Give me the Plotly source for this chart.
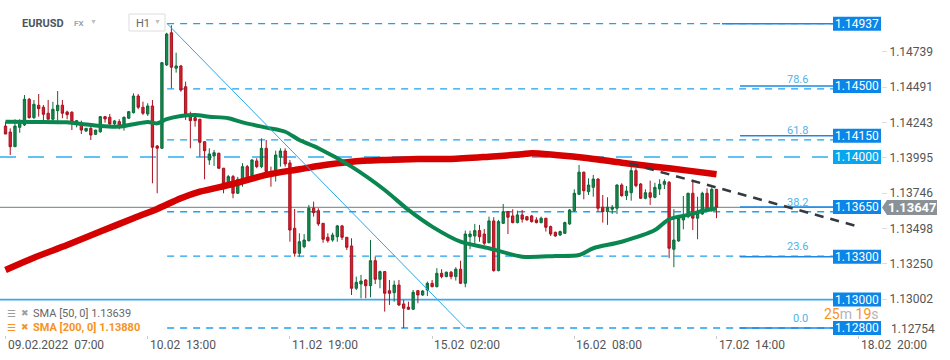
import plotly.graph_objects as go

# ---------------- data ----------------
candle_idx = list(range(151))
opens = [1.14218,1.14176,1.14073,1.14209,1.14226,1.14406,1.14277,1.14364,1.14350,1.14308,
         1.14266,1.14326,1.14364,1.14317,1.14315,1.14233,1.14226,1.14183,1.14202,1.14160,
         1.14178,1.14284,1.14280,1.14233,1.14249,1.14218,1.14273,1.14312,1.14429,1.14350,
         1.14303,1.14359,1.14078,1.14062,1.14647,1.14873,1.14624,1.14640,1.14494,1.14284,
         1.14277,1.14266,1.14108,1.13980,1.14008,1.14027,1.13922,1.13816,1.13863,1.13746,
         1.13816,1.13933,1.13868,1.13973,1.13933,1.14062,1.13898,1.13905,1.13999,1.14043,
         1.13959,1.13500,1.13325,1.13371,1.13413,1.13641,1.13624,1.13535,1.13437,1.13418,
         1.13441,1.13517,1.13437,1.13376,1.13079,1.13109,1.13137,1.13097,1.13273,1.13142,
         1.13196,1.13062,1.13048,1.13102,1.12969,1.12946,1.12932,1.13062,1.13032,1.13067,
         1.13114,1.13090,1.13184,1.13161,1.13192,1.13161,1.13213,1.13114,1.13441,1.13446,
         1.13484,1.13460,1.13399,1.13552,1.13203,1.13535,1.13617,1.13587,1.13540,1.13594,
         1.13582,1.13587,1.13559,1.13540,1.13571,1.13512,1.13472,1.13453,1.13465,1.13531,
         1.13624,1.13739,1.13894,1.13757,1.13788,1.13846,1.13648,1.13617,1.13634,1.13641,
         1.13804,1.13729,1.13750,1.13905,1.13811,1.13711,1.13750,1.13718,1.13776,1.13809,
         1.13823,1.13353,1.13411,1.13559,1.13582,1.13746,1.13571,1.13601,1.13746,1.13629,
         1.13774]
highs = [1.14249,1.14202,1.14266,1.14266,1.14436,1.14415,1.14401,1.14443,1.14366,1.14401,
         1.14389,1.14464,1.14401,1.14326,1.14322,1.14261,1.14256,1.14202,1.14214,1.14190,
         1.14289,1.14289,1.14303,1.14261,1.14266,1.14284,1.14324,1.14448,1.14443,1.14389,
         1.14378,1.14401,1.14085,1.14668,1.14873,1.14925,1.14733,1.14647,1.14530,1.14319,
         1.14282,1.14268,1.14113,1.14062,1.14050,1.14031,1.13924,1.13875,1.13875,1.13861,
         1.13957,1.13945,1.13985,1.13992,1.14132,1.14120,1.13933,1.14045,1.14062,1.14062,
         1.13980,1.13636,1.13465,1.13460,1.13664,1.13687,1.13641,1.13538,1.13465,1.13469,
         1.13524,1.13524,1.13439,1.13430,1.13161,1.13173,1.13144,1.13418,1.13301,1.13203,
         1.13201,1.13137,1.13133,1.13137,1.12997,1.12985,1.13067,1.13067,1.13067,1.13126,
         1.13137,1.13220,1.13213,1.13196,1.13201,1.13227,1.13273,1.13484,1.13484,1.13531,
         1.13524,1.13495,1.13582,1.13578,1.13559,1.13671,1.13622,1.13634,1.13624,1.13629,
         1.13587,1.13594,1.13578,1.13582,1.13573,1.13519,1.13477,1.13484,1.13547,1.13634,
         1.13774,1.13945,1.13898,1.13851,1.13875,1.13851,1.13734,1.13718,1.13664,1.13809,
         1.13816,1.13797,1.13933,1.13922,1.13818,1.13774,1.13835,1.13820,1.13844,1.13844,
         1.13832,1.13634,1.13594,1.13727,1.13750,1.13839,1.13722,1.13757,1.13781,1.13788,
         1.13776]
lows = [1.14162,1.14015,1.14073,1.14171,1.14218,1.14270,1.14268,1.14284,1.14249,1.14266,
        1.14249,1.14249,1.14273,1.14266,1.14190,1.14209,1.14162,1.14176,1.14120,1.14155,
        1.14171,1.14242,1.14226,1.14226,1.14195,1.14186,1.14268,1.14306,1.14336,1.14296,
        1.14289,1.13816,1.13746,1.14057,1.14640,1.14483,1.14593,1.14459,1.14261,1.14062,
        1.14214,1.14003,1.13844,1.13945,1.13938,1.13917,1.13746,1.13792,1.13711,1.13741,
        1.13792,1.13828,1.13858,1.13922,1.13922,1.13875,1.13792,1.13828,1.13933,1.13933,
        1.13406,1.13301,1.13301,1.13360,1.13408,1.13582,1.13517,1.13399,1.13399,1.13406,
        1.13406,1.13418,1.13348,1.13032,1.13067,1.13009,1.13009,1.13016,1.13109,1.13079,
        1.12915,1.12962,1.12985,1.12955,1.12800,1.12927,1.12927,1.12974,1.13025,1.13025,
        1.13086,1.13086,1.13149,1.13156,1.13142,1.13133,1.13109,1.13086,1.13353,1.13390,
        1.13406,1.13383,1.13395,1.13196,1.13198,1.13531,1.13460,1.13535,1.13535,1.13540,
        1.13554,1.13540,1.13535,1.13535,1.13477,1.13446,1.13441,1.13446,1.13460,1.13524,
        1.13617,1.13734,1.13704,1.13734,1.13722,1.13617,1.13540,1.13524,1.13601,1.13601,
        1.13722,1.13699,1.13694,1.13788,1.13706,1.13704,1.13664,1.13711,1.13734,1.13776,
        1.13290,1.13227,1.13406,1.13493,1.13571,1.13488,1.13423,1.13594,1.13624,1.13617,
        1.13571]
closes = [1.14162,1.14073,1.14218,1.14256,1.14406,1.14277,1.14371,1.14340,1.14301,1.14266,
          1.14336,1.14364,1.14308,1.14298,1.14249,1.14256,1.14190,1.14202,1.14155,1.14190,
          1.14284,1.14268,1.14233,1.14254,1.14218,1.14280,1.14319,1.14429,1.14350,1.14308,
          1.14359,1.14069,1.14062,1.14663,1.14864,1.14631,1.14640,1.14471,1.14303,1.14256,
          1.14256,1.14104,1.14045,1.14022,1.14031,1.13922,1.13816,1.13863,1.13746,1.13844,
          1.13933,1.13844,1.13980,1.13933,1.14062,1.13898,1.13863,1.14015,1.14043,1.13952,
          1.13488,1.13325,1.13406,1.13418,1.13641,1.13610,1.13531,1.13423,1.13413,1.13453,
          1.13517,1.13437,1.13367,1.13079,1.13121,1.13130,1.13097,1.13273,1.13142,1.13196,
          1.13044,1.13044,1.13102,1.12962,1.12939,1.12932,1.13051,1.13032,1.13060,1.13114,
          1.13090,1.13184,1.13161,1.13192,1.13161,1.13213,1.13114,1.13460,1.13460,1.13484,
          1.13441,1.13395,1.13552,1.13203,1.13547,1.13617,1.13578,1.13540,1.13594,1.13564,
          1.13559,1.13547,1.13540,1.13571,1.13507,1.13460,1.13446,1.13477,1.13540,1.13629,
          1.13746,1.13894,1.13764,1.13804,1.13846,1.13641,1.13617,1.13648,1.13648,1.13804,
          1.13729,1.13762,1.13905,1.13799,1.13711,1.13750,1.13718,1.13788,1.13809,1.13828,
          1.13360,1.13418,1.13571,1.13587,1.13746,1.13571,1.13606,1.13746,1.13629,1.13774,
          1.13647]

sma50_idx = [0,6,13,16,20,24,27,30,32,34,37,40,43,47,50,55,59,62,66,73,
             80,85,90,96,102,109,116,121,124,130,137,140,144,147,150]
sma50_val = [1.14249,1.14247,1.14244,1.14233,1.14218,1.14214,1.14231,1.14247,1.14237,1.14266,
             1.14289,1.14296,1.14284,1.14273,1.14244,1.14207,1.14178,1.14120,1.14062,1.13933,
             1.13769,1.13629,1.13512,1.13406,1.13360,1.13301,1.13306,1.13313,1.13360,1.13406,
             1.13488,1.13564,1.13594,1.13622,1.13639]
sma200_idx = [0,6,13,20,27,32,37,41,48,55,62,66,73,80,87,94,102,109,111,116,123,130,137,144,150]
sma200_val = [1.13208,1.13294,1.13383,1.13477,1.13571,1.13636,1.13711,1.13757,1.13811,1.13875,
              1.13915,1.13938,1.13968,1.13980,1.13987,1.13987,1.14003,1.14020,1.14027,1.14015,
              1.13992,1.13961,1.13933,1.13905,1.13880]

fib_high = 1.14937
fib_low = 1.12800
fib_ratios = [0.0, 23.6, 38.2, 61.8, 78.6, 100.0]
level_prices = [1.14937, 1.14500, 1.14150, 1.14000, 1.13650, 1.13300, 1.13000, 1.12800]
last_price = 1.13647

trend_x = [131.7, 180.3]
trend_y = [1.13955, 1.13509]
diag_x = [34.1, 97.0]
diag_y = [1.14937, 1.12800]

axis_ticks = [1.14739, 1.14491, 1.14243, 1.13995, 1.13746, 1.13498, 1.13250, 1.13002, 1.12754]
x_tick_idx = [0, 30, 60, 90, 120, 150, 180]
x_tick_text = ["09.02.2022\u00a0\u00a007:00", "10.02\u00a0\u00a013:00", "11.02\u00a0\u00a019:00",
               "15.02\u00a0\u00a002:00", "16.02\u00a0\u00a008:00", "17.02\u00a0\u00a014:00",
               "18.02\u00a0\u00a020:00"]

# ---------------- geometry helpers ----------------
Y0, Y1 = 1.12751, 1.15103
X0, X1 = -1.16, 184.7
PLOT_W, PLOT_H = 881, 335
ppx = (Y1 - Y0) / PLOT_H


def px_idx(px):
    return X0 + px / PLOT_W * (X1 - X0)


def py_paper(py):
    return 1 - py / PLOT_H


def price_paper(p):
    return (p - Y0) / (Y1 - Y0)


FIB_BLUE = "#1ea1ee"
BOX_BLUE = "#0b86e8"

fig = go.Figure()

fig.add_trace(go.Candlestick(
    x=candle_idx, open=opens, high=highs, low=lows, close=closes,
    increasing=dict(line=dict(color="#0b6b3a", width=1), fillcolor="#16874e"),
    decreasing=dict(line=dict(color="#a8121f", width=1), fillcolor="#d81f2c"),
    whiskerwidth=0, showlegend=False, hoverinfo="skip"))

fig.add_trace(go.Scatter(x=sma200_idx, y=sma200_val, mode="lines",
                         line=dict(color="#d50000", width=6.5, shape="spline", smoothing=0.8),
                         showlegend=False, hoverinfo="skip"))
fig.add_trace(go.Scatter(x=sma50_idx, y=sma50_val, mode="lines",
                         line=dict(color="#0a8650", width=4, shape="spline", smoothing=0.8),
                         showlegend=False, hoverinfo="skip"))
fig.add_trace(go.Scatter(x=diag_x, y=diag_y, mode="lines",
                         line=dict(color="#2aa8ea", width=1), showlegend=False, hoverinfo="skip"))
fig.add_trace(go.Scatter(x=trend_x, y=trend_y, mode="lines",
                         line=dict(color="#333a3f", width=2.5, dash="9px,7px"),
                         showlegend=False, hoverinfo="skip"))

shapes = []
annotations = []
x_box_left = px_idx(833)

# fib dashed lines
for r in fib_ratios:
    p = fib_low + r / 100 * (fib_high - fib_low)
    shapes.append(dict(type="line", xref="x", yref="y", x0=diag_x[0], x1=x_box_left, y0=p, y1=p,
                       line=dict(color=FIB_BLUE, width=1.3, dash="7px,6px"), layer="below"))
    if r < 100:
        annotations.append(dict(x=px_idx(810), xref="x", y=p, yref="y", text=f"{r:.1f}",
                                xanchor="right", yanchor="bottom", yshift=1, showarrow=False,
                                font=dict(size=11, color="#4fb3ea")))

# current price line
shapes.append(dict(type="line", xref="paper", yref="y", x0=0, x1=1, y0=last_price, y1=last_price,
                   line=dict(color="#8a969c", width=1.2), layer="below"))

# horizontal levels
for p in level_prices:
    if abs(p - 1.14) < 1e-9:
        shapes.append(dict(type="line", xref="x", yref="y", x0=X0, x1=x_box_left, y0=p, y1=p,
                           line=dict(color="#2eb0f2", width=1.5, dash="16px,12px"), layer="below"))
        col = "#09a6ef"
    elif abs(p - 1.13) < 1e-9:
        shapes.append(dict(type="line", xref="x", yref="y", x0=X0, x1=x_box_left, y0=p, y1=p,
                           line=dict(color="#3aa8ef", width=1.8), layer="below"))
        col = BOX_BLUE
    else:
        start = px_idx(722) if p == level_prices[0] else px_idx(740)
        shapes.append(dict(type="line", xref="x", yref="y", x0=start, x1=x_box_left, y0=p, y1=p,
                           line=dict(color="#1e88e5", width=1.5), layer="below"))
        col = BOX_BLUE
    shapes.append(dict(type="rect", xref="paper", yref="y", x0=833 / PLOT_W, x1=1,
                       y0=p - 7 * ppx, y1=p + 7 * ppx, line=dict(width=0), fillcolor=col,
                       layer="above"))
    annotations.append(dict(x=(833 + 881) / 2 / PLOT_W, xref="paper", y=p, yref="y",
                            text=f"{p:.5f}", showarrow=False, xanchor="center", yanchor="middle",
                            font=dict(size=12, color="white")))

# current price label with arrow
yc = price_paper(last_price)
hh = 7.5 / PLOT_H
xt, xb, xr = 882 / PLOT_W, 887 / PLOT_W, 937 / PLOT_W
shapes.append(dict(type="path", xref="paper", yref="paper",
                   path=f"M {xt},{yc} L {xb},{yc + hh} L {xr},{yc + hh} L {xr},{yc - hh} L {xb},{yc - hh} Z",
                   fillcolor="#8a9297", line=dict(width=0), layer="above"))
annotations.append(dict(x=(887 + 937) / 2 / PLOT_W, xref="paper", y=last_price, yref="y",
                        text=f"<b>{last_price:.5f}</b>", showarrow=False, xanchor="center",
                        yanchor="middle", font=dict(size=13, color="white")))

# bottom right axis label (clamped inside like the reference)
annotations.append(dict(x=889 / PLOT_W, xref="paper", y=py_paper(329), yref="paper",
                        text=f"{axis_ticks[-1]:.5f}", showarrow=False, xanchor="left",
                        yanchor="middle", font=dict(size=12, color="#555")))

# countdown
annotations.append(dict(x=1, xref="paper", y=py_paper(314), yref="paper",
                        text="<span style='color:#f7931e'>25</span><span style='color:#b5b5b5'>m</span> "
                             "<span style='color:#f7931e'>19</span><span style='color:#b5b5b5'>s</span>",
                        showarrow=False, xanchor="right", yanchor="middle", font=dict(size=14)))

# x tick labels, left-aligned at tick
for i, t in zip(x_tick_idx, x_tick_text):
    annotations.append(dict(x=i, xref="x", y=0, yref="paper", text=t, showarrow=False,
                            xanchor="left", yanchor="top", yshift=-1, xshift=0,
                            font=dict(size=12, color="#555")))

# legend lines
leg = [(f"SMA [50, 0] {sma50_val[-1]:.5f}", "#666", "#9e9e9e", 313, False),
       (f"SMA [200, 0] {sma200_val[-1]:.5f}", "#f7931e", "#f7931e", 327, True)]
for txt, col, icol, ypx, bold in leg:
    annotations.append(dict(x=5 / PLOT_W, xref="paper", y=py_paper(ypx), yref="paper",
                            text="☰", showarrow=False, xanchor="left", yanchor="middle",
                            font=dict(size=10, color=icol)))
    annotations.append(dict(x=19 / PLOT_W, xref="paper", y=py_paper(ypx), yref="paper",
                            text="✖", showarrow=False, xanchor="left", yanchor="middle",
                            font=dict(size=9, color=icol)))
    annotations.append(dict(x=31 / PLOT_W, xref="paper", y=py_paper(ypx), yref="paper",
                            text=(f"<b>{txt}</b>" if bold else txt), showarrow=False,
                            xanchor="left", yanchor="middle", font=dict(size=11, color=col)))

# header
annotations.append(dict(x=20 / PLOT_W, xref="paper", y=py_paper(23), yref="paper", text="<b>EURUSD</b>",
                        showarrow=False, xanchor="left", yanchor="middle",
                        font=dict(size=11, color="#4b5660")))
annotations.append(dict(x=72 / PLOT_W, xref="paper", y=py_paper(24), yref="paper", text="<b>FX</b>",
                        showarrow=False, xanchor="left", yanchor="middle",
                        font=dict(size=8, color="#9aa5ad")))
annotations.append(dict(x=88 / PLOT_W, xref="paper", y=py_paper(22), yref="paper", text="▼",
                        showarrow=False, xanchor="left", yanchor="middle",
                        font=dict(size=7, color="#c0c0c0")))
shapes.append(dict(type="rect", xref="paper", yref="paper", x0=129 / PLOT_W, x1=165 / PLOT_W,
                   y0=py_paper(31), y1=py_paper(14), line=dict(color="#dddddd", width=1),
                   fillcolor="white", layer="above"))
annotations.append(dict(x=134 / PLOT_W, xref="paper", y=py_paper(23), yref="paper", text="H1",
                        showarrow=False, xanchor="left", yanchor="middle",
                        font=dict(size=11, color="#666")))
annotations.append(dict(x=152 / PLOT_W, xref="paper", y=py_paper(22), yref="paper", text="▼",
                        showarrow=False, xanchor="left", yanchor="middle",
                        font=dict(size=7, color="#c0c0c0")))

fig.update_layout(
    width=950, height=360,
    margin=dict(l=0, r=950 - PLOT_W, t=0, b=360 - PLOT_H),
    paper_bgcolor="white", plot_bgcolor="white",
    font=dict(family="Roboto, Arial, sans-serif"),
    showlegend=False,
    shapes=shapes, annotations=annotations,
    xaxis=dict(range=[X0, X1], rangeslider=dict(visible=False), showgrid=False, zeroline=False,
               showline=False, tickvals=x_tick_idx, ticks="outside", ticklen=3, tickcolor="#cccccc",
               showticklabels=False),
    yaxis=dict(range=[Y0, Y1], side="right", showgrid=False, zeroline=False, showline=False,
               tickvals=axis_ticks[:-1], ticktext=[f"{v:.5f}" for v in axis_ticks[:-1]],
               ticks="outside", ticklen=5, tickcolor="#dddddd",
               tickfont=dict(size=12, color="#555")),
)

fig.write_html("out.html", config={"displayModeBar": False},
               post_script="document.body.style.margin='0';document.body.style.overflow='hidden';")
